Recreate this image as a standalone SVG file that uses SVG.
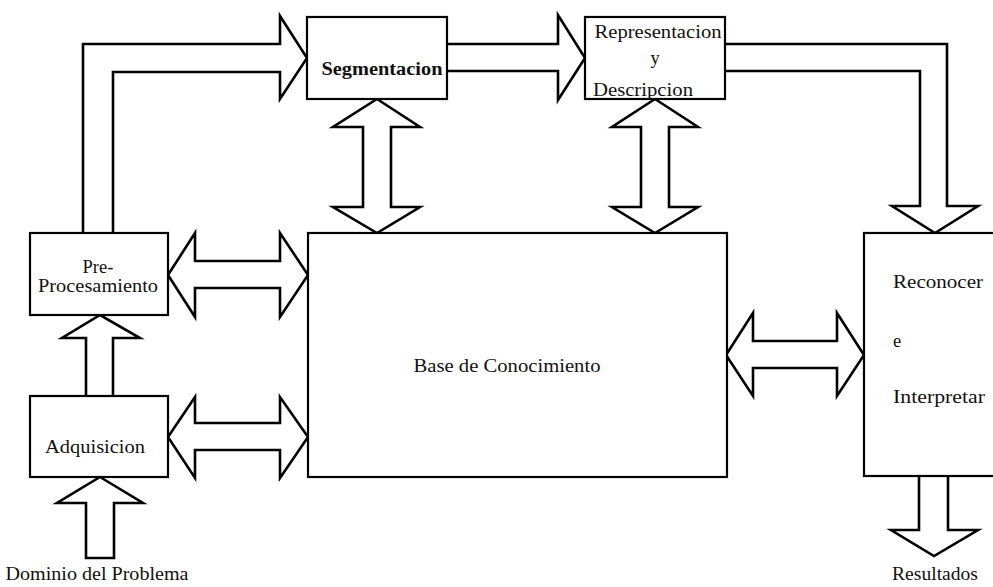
<svg xmlns="http://www.w3.org/2000/svg" width="993" height="587" viewBox="0 0 993 587">
<style>
.box{fill:#fff;stroke:#000;stroke-width:2.2}
.arr{fill:#fff;stroke:#000;stroke-width:2.6;stroke-linejoin:miter}
text{font-family:"Liberation Serif","Times New Roman",serif;font-size:18.5px;fill:#111}
.b{font-weight:bold}
</style>
<rect width="993" height="587" fill="#fff"/>
<g id="connectors">
<path class="arr" d="M83,233 L83,44 L280,44 L280,16 L307,58 L280,99 L280,72 L113,72 L113,233"/>
<path class="arr" d="M447,44 L558,44 L558,15 L585,58 L558,100 L558,71 L447,71"/>
<path class="arr" d="M725,44 L947,44 L947,206 L978,206 L935,233 L892,206 L920,206 L920,71 L725,71"/>
<polygon class="arr" points="377,99 420,127 391,127 391,207 420,207 377,233 333,207 363,207 363,127 333,127"/>
<polygon class="arr" points="655,99 698,127 669,127 669,207 698,207 655,233 612,207 641,207 641,127 612,127"/>
<polygon class="arr" points="168,275 195,233 195,261 280,261 280,233 308,275 280,317 280,288 195,288 195,317"/>
<polygon class="arr" points="168,437 195,397 195,423 280,423 280,397 308,437 280,478 280,450 195,450 195,478"/>
<polygon class="arr" points="726,355 753,313 753,341 837,341 837,313 864,355 837,396 837,368 753,368 753,396"/>
<path class="arr" d="M86,396 L86,338 L62,338 L100,315 L140,338 L113,338 L113,396"/>
<polygon class="arr" points="100,477 143,503 114,503 114,558 86,558 86,503 57,503"/>
<path class="arr" d="M919,476 L919,530 L891,530 L934,556 L978,530 L948,530 L948,476"/>
</g>
<g id="segmentacion">
<rect class="box" x="307" y="17" width="140" height="82"/>
<text class="b" x="382" y="75" text-anchor="middle" textLength="121" lengthAdjust="spacingAndGlyphs">Segmentacion</text>
</g>
<g id="representacion">
<rect class="box" x="585" y="17" width="140" height="82"/>
<text x="658" y="38" text-anchor="middle" textLength="127" lengthAdjust="spacingAndGlyphs">Representacion</text>
<text x="655" y="64" text-anchor="middle">y</text>
<text x="643" y="96" text-anchor="middle" textLength="100" lengthAdjust="spacingAndGlyphs">Descripcion</text>
</g>
<g id="preprocesamiento">
<rect class="box" x="30" y="233" width="138" height="82"/>
<text x="98" y="273" text-anchor="middle">Pre-</text>
<text x="98" y="292" text-anchor="middle" textLength="120" lengthAdjust="spacingAndGlyphs">Procesamiento</text>
</g>
<g id="adquisicion">
<rect class="box" x="30" y="396" width="138" height="81"/>
<text x="95" y="453" text-anchor="middle" textLength="100" lengthAdjust="spacingAndGlyphs">Adquisicion</text>
</g>
<g id="base">
<rect class="box" x="308" y="233" width="419" height="244"/>
<text x="507" y="372" text-anchor="middle" textLength="187" lengthAdjust="spacingAndGlyphs">Base de Conocimiento</text>
</g>
<g id="reconocer">
<rect class="box" x="864" y="233" width="140" height="243"/>
<text x="893" y="288" textLength="90" lengthAdjust="spacingAndGlyphs">Reconocer</text>
<text x="893" y="347">e</text>
<text x="893" y="403" textLength="92" lengthAdjust="spacingAndGlyphs">Interpretar</text>
</g>
<g id="dominio">
<text x="97" y="580" text-anchor="middle" textLength="183" lengthAdjust="spacingAndGlyphs">Dominio del Problema</text>
</g>
<g id="resultados">
<text x="935" y="580" text-anchor="middle" textLength="86" lengthAdjust="spacingAndGlyphs">Resultados</text>
</g>
</svg>
